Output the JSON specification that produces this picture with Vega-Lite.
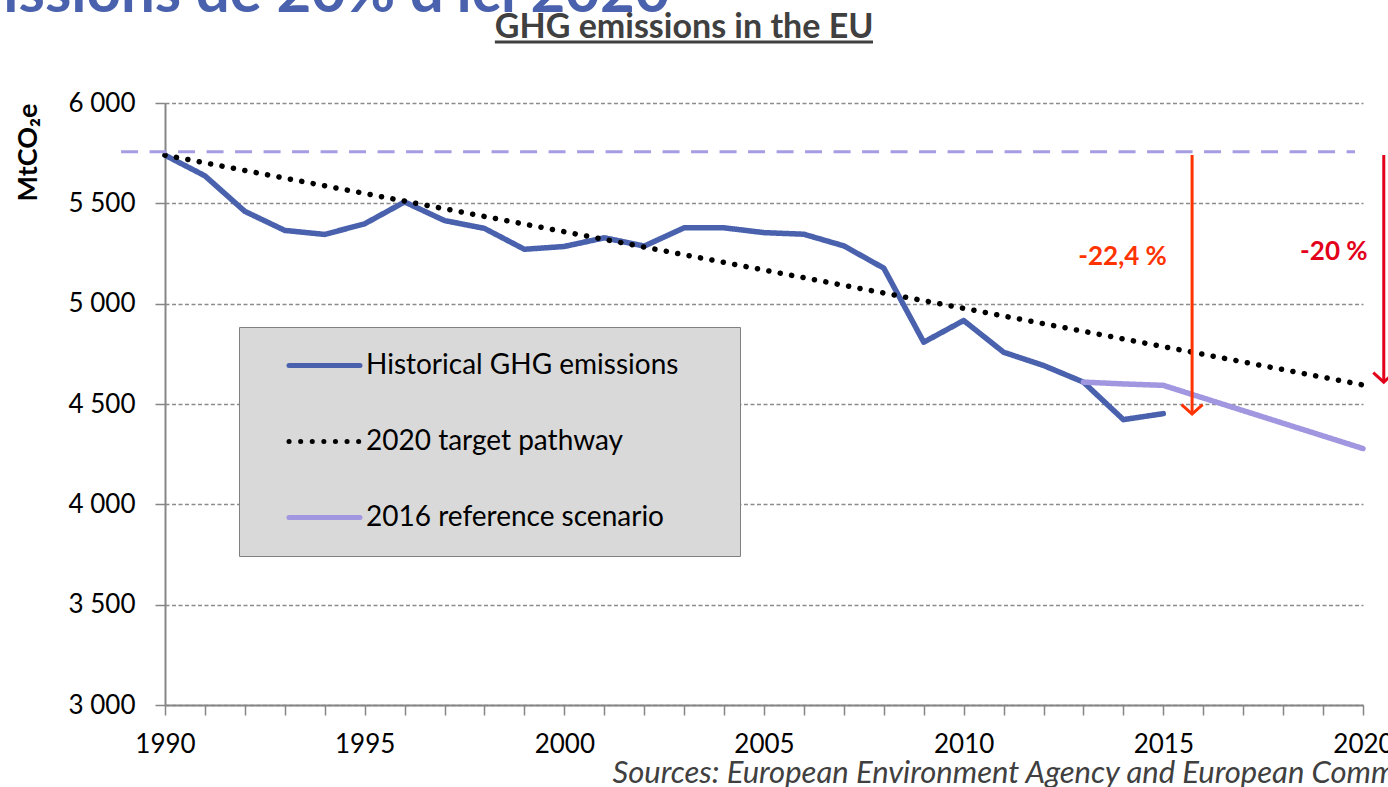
{
  "$schema": "https://vega.github.io/schema/vega-lite/v6.json",
  "width": 1198,
  "height": 602,
  "autosize": {"type": "none"},
  "padding": {"left": 165, "top": 103, "right": 25, "bottom": 82},
  "background": "white",
  "config": {
    "view": {"stroke": null},
    "font": "Lato"
  },
  "datasets": {
    "series": [
      {"series": "Historical GHG emissions", "year": 1990, "value": 5740},
      {"series": "Historical GHG emissions", "year": 1991, "value": 5637},
      {"series": "Historical GHG emissions", "year": 1992, "value": 5460},
      {"series": "Historical GHG emissions", "year": 1993, "value": 5365},
      {"series": "Historical GHG emissions", "year": 1994, "value": 5345},
      {"series": "Historical GHG emissions", "year": 1995, "value": 5398},
      {"series": "Historical GHG emissions", "year": 1996, "value": 5507},
      {"series": "Historical GHG emissions", "year": 1997, "value": 5414},
      {"series": "Historical GHG emissions", "year": 1998, "value": 5375},
      {"series": "Historical GHG emissions", "year": 1999, "value": 5271},
      {"series": "Historical GHG emissions", "year": 2000, "value": 5285},
      {"series": "Historical GHG emissions", "year": 2001, "value": 5328},
      {"series": "Historical GHG emissions", "year": 2002, "value": 5287},
      {"series": "Historical GHG emissions", "year": 2003, "value": 5378},
      {"series": "Historical GHG emissions", "year": 2004, "value": 5378},
      {"series": "Historical GHG emissions", "year": 2005, "value": 5354},
      {"series": "Historical GHG emissions", "year": 2006, "value": 5346},
      {"series": "Historical GHG emissions", "year": 2007, "value": 5288},
      {"series": "Historical GHG emissions", "year": 2008, "value": 5177},
      {"series": "Historical GHG emissions", "year": 2009, "value": 4808},
      {"series": "Historical GHG emissions", "year": 2010, "value": 4916},
      {"series": "Historical GHG emissions", "year": 2011, "value": 4758},
      {"series": "Historical GHG emissions", "year": 2012, "value": 4692},
      {"series": "Historical GHG emissions", "year": 2013, "value": 4609},
      {"series": "Historical GHG emissions", "year": 2014, "value": 4422},
      {"series": "Historical GHG emissions", "year": 2015, "value": 4452},
      {"series": "2016 reference scenario", "year": 2013, "value": 4609},
      {"series": "2016 reference scenario", "year": 2014, "value": 4600},
      {"series": "2016 reference scenario", "year": 2015, "value": 4593},
      {"series": "2016 reference scenario", "year": 2016, "value": 4530},
      {"series": "2016 reference scenario", "year": 2017, "value": 4467},
      {"series": "2016 reference scenario", "year": 2018, "value": 4404},
      {"series": "2016 reference scenario", "year": 2019, "value": 4341},
      {"series": "2016 reference scenario", "year": 2020, "value": 4278},
      {"series": "2020 target pathway", "year": 1990, "value": 5740},
      {"series": "2020 target pathway", "year": 2020, "value": 4595}
    ],
    "level": [
      {"label": "1990 level", "year": 1988.9, "yearEnd": 2019.8, "value": 5757}
    ],
    "arrows": [
      {"label": "-22,4 %", "year": 2015.72, "value": 4450, "top": 5741},
      {"label": "-20 %", "year": 2020.52, "value": 4609, "top": 5741}
    ],
    "arrowLabels": [
      {"label": "-22,4 %", "year": 2013.98, "value": 5233},
      {"label": "-20 %", "year": 2019.27, "value": 5257}
    ],
    "heading": [
      {"text": "issions de 20% d'ici 2020", "year": 1985.95, "value": 6451}
    ],
    "chartTitle": [
      {"text": "GHG emissions in the EU", "year": 2003.0, "value": 6324}
    ],
    "underline": [
      {"year": 1998.26, "yearEnd": 2007.73, "value": 6304}
    ]
  },
  "encoding": {
    "x": {
      "field": "year",
      "type": "quantitative",
      "scale": {"domain": [1990, 2020], "nice": false, "zero": false},
      "axis": {
        "title": "Sources: European Environment Agency and European Commission",
        "values": [1990, 1991, 1992, 1993, 1994, 1995, 1996, 1997, 1998, 1999, 2000, 2001, 2002, 2003, 2004, 2005, 2006, 2007, 2008, 2009, 2010, 2011, 2012, 2013, 2014, 2015, 2016, 2017, 2018, 2019, 2020],
        "tickCount": 40,
        "format": "d",
        "labelExpr": "datum.value % 5 === 0 ? datum.label : ''",
        "labelFont": "Lato",
        "labelFontSize": 26,
        "labelColor": "black",
        "labelPadding": 16,
        "labelOverlap": false,
        "labelFlush": false,
        "tickSize": 10,
        "tickColor": "#868686",
        "tickWidth": 1.5,
        "domainColor": "#868686",
        "domainWidth": 2,
        "grid": false,
        "titleFont": "Lato",
        "titleFontStyle": "italic",
        "titleFontWeight": "normal",
        "titleFontSize": 31,
        "titleColor": "#404040",
        "titleAnchor": "start",
        "titleAlign": "left",
        "titleBaseline": "middle",
        "titleX": 447,
        "titleY": 68
      }
    },
    "y": {
      "field": "value",
      "type": "quantitative",
      "scale": {"domain": [3000, 6000], "nice": false, "zero": false},
      "axis": {
        "title": "MtCO₂e",
        "values": [3000, 3500, 4000, 4500, 5000, 5500, 6000],
        "labelExpr": "replace(format(datum.value, ','), ',', ' ')",
        "labelFont": "Lato",
        "labelFontSize": 26,
        "labelColor": "black",
        "labelPadding": 20,
        "tickSize": 10,
        "tickColor": "#868686",
        "tickWidth": 1.5,
        "domainColor": "#868686",
        "domainWidth": 2,
        "grid": true,
        "gridColor": "#8c8c8c",
        "gridDash": [4, 2.5],
        "gridWidth": 1.5,
        "titleFont": "Lato",
        "titleFontWeight": "bold",
        "titleFontSize": 27,
        "titleColor": "black",
        "titleAngle": -90,
        "titleAlign": "right",
        "titleBaseline": "middle",
        "titleX": -137,
        "titleY": 0
      }
    }
  },
  "resolve": {"scale": {"color": "independent", "strokeDash": "independent"}},
  "layer": [
    {
      "data": {"name": "series"},
      "mark": {"type": "line", "strokeWidth": 5.5, "strokeCap": "round", "strokeJoin": "round"},
      "encoding": {
        "color": {
          "field": "series",
          "type": "nominal",
          "scale": {
            "domain": ["Historical GHG emissions", "2020 target pathway", "2016 reference scenario"],
            "range": ["#4a62ad", "#000000", "#a196e0"]
          },
          "legend": {
            "title": " ",
            "titleOrient": "right",
            "titlePadding": 38,
            "titleFontSize": 4,
            "orient": "none",
            "legendX": 74,
            "legendY": 224,
            "fillColor": "#d9d9d9",
            "strokeColor": "#808080",
            "padding": 24,
            "symbolType": "M-3,0L3,0",
            "symbolSize": 560,
            "symbolStrokeWidth": 5,
            "symbolOffset": 47,
            "labelOffset": 27,
            "labelFont": "Lato",
            "labelFontSize": 28,
            "labelColor": "black",
            "labelLimit": 500,
            "rowPadding": 47,
            "encode": {"symbols": {"update": {"strokeCap": {"value": "round"}}}}
          }
        },
        "strokeDash": {
          "field": "series",
          "type": "nominal",
          "scale": {
            "domain": ["Historical GHG emissions", "2020 target pathway", "2016 reference scenario"],
            "range": [[1, 0], [0.1, 11.5], [1, 0]]
          },
          "legend": {
            "title": " ",
            "titleOrient": "right",
            "titlePadding": 38,
            "titleFontSize": 4,
            "orient": "none",
            "legendX": 74,
            "legendY": 224,
            "fillColor": "#d9d9d9",
            "strokeColor": "#808080",
            "padding": 24,
            "symbolType": "M-3,0L3,0",
            "symbolSize": 560,
            "symbolStrokeWidth": 5,
            "symbolOffset": 47,
            "labelOffset": 27,
            "labelFont": "Lato",
            "labelFontSize": 28,
            "labelColor": "black",
            "labelLimit": 500,
            "rowPadding": 47,
            "encode": {"symbols": {"update": {"strokeCap": {"value": "round"}}}}
          }
        }
      }
    },
    {
      "data": {"name": "level"},
      "mark": {"type": "rule", "color": "#a59de3", "strokeWidth": 3, "strokeDash": [17, 11.5]},
      "encoding": {
        "x2": {"field": "yearEnd"}
      }
    },
    {
      "data": {"name": "arrows"},
      "layer": [
        {
          "mark": {"type": "rule", "strokeWidth": 3},
          "encoding": {
            "y2": {"field": "top"},
            "color": {"field": "label", "type": "nominal", "scale": {"domain": ["-22,4 %", "-20 %"], "range": ["#ff3300", "#e3001b"]}, "legend": null}
          }
        },
        {
          "mark": {"type": "point", "shape": "M-1,-0.9L0,0L1,-0.9", "filled": false, "size": 441, "strokeWidth": 3, "opacity": 1},
          "encoding": {
            "color": {"field": "label", "type": "nominal", "scale": {"domain": ["-22,4 %", "-20 %"], "range": ["#ff3300", "#e3001b"]}, "legend": null}
          }
        }
      ]
    },
    {
      "data": {"name": "arrowLabels"},
      "mark": {"type": "text", "font": "Lato", "fontSize": 26, "fontWeight": "bold", "align": "center", "baseline": "middle"},
      "encoding": {
        "text": {"field": "label"},
        "color": {"field": "label", "type": "nominal", "scale": {"domain": ["-22,4 %", "-20 %"], "range": ["#ff3300", "#e3001b"]}, "legend": null}
      }
    },
    {
      "data": {"name": "heading"},
      "mark": {"type": "text", "align": "left", "baseline": "alphabetic", "font": "Lato", "fontSize": 60, "fontWeight": "bold", "color": "#4a62ad"},
      "encoding": {
        "text": {"field": "text"}
      }
    },
    {
      "data": {"name": "chartTitle"},
      "mark": {"type": "text", "align": "center", "baseline": "alphabetic", "font": "Lato", "fontSize": 34, "fontWeight": "bold", "color": "#404040"},
      "encoding": {
        "text": {"field": "text"}
      }
    },
    {
      "data": {"name": "underline"},
      "mark": {"type": "rule", "color": "#404040", "strokeWidth": 3},
      "encoding": {
        "x2": {"field": "yearEnd"}
      }
    }
  ]
}
